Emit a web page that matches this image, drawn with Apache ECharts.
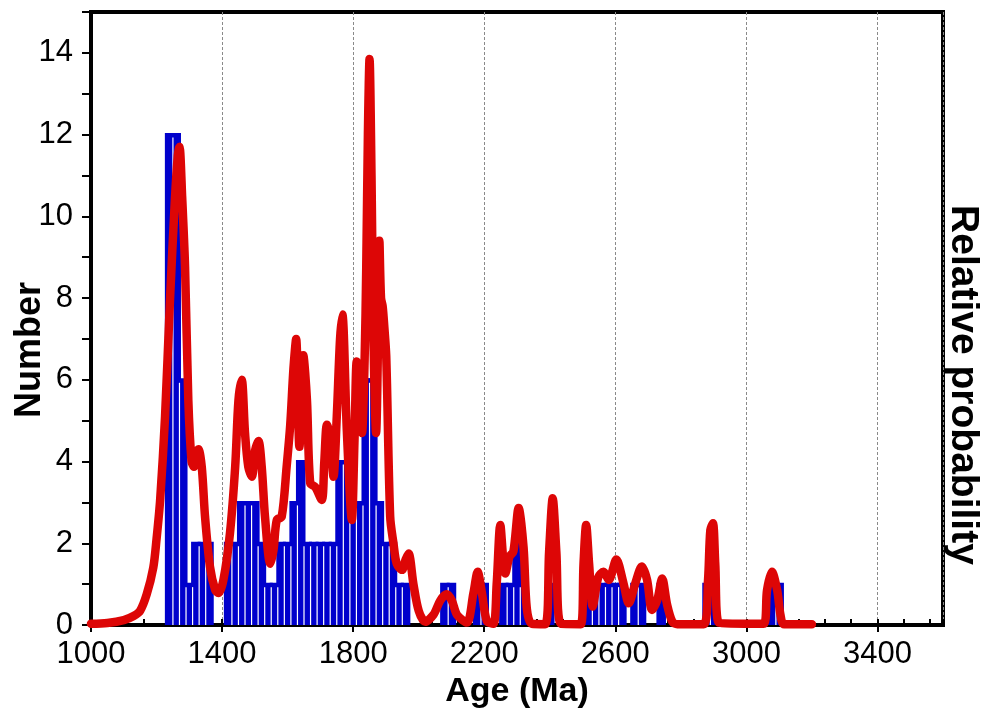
<!DOCTYPE html>
<html>
<head>
<meta charset="utf-8">
<script src="https://cdn.jsdelivr.net/npm/echarts@6/dist/echarts.min.js"></script>
<style>
html,body{margin:0;padding:0;background:#ffffff;}
#chart{width:987px;height:723px;}
</style>
</head>
<body>
<div id="chart"></div>
<script>
// ---- Data ----
// Histogram: bin centres (Ma), 20 Ma wide bins, and the number of grains in each
const binWidth = 20;
const binCenters = [1240,1260,1280,1300,1320,1340,1360,1420,1440,1460,1480,1500,1520,1540,1560,1580,1600,1620,1640,1660,1680,1700,1720,1740,1760,1780,1800,1820,1840,1860,1880,1900,1920,1940,1960,2080,2100,2180,2200,2260,2280,2300,2320,2400,2520,2540,2560,2580,2600,2620,2660,2680,2740,2880,2900,3080,3100];
const binCounts  = [12,12,6,1,2,2,2,2,2,3,3,3,2,1,1,2,2,3,4,2,2,2,2,2,4,4,3,3,6,6,3,2,2,1,1,1,1,1,1,1,1,2,1,1,1,1,1,1,1,1,1,1,1,1,1,1,1];

// Relative probability curve (scaled to the Number axis)
const curveAges = [1000,1050,1100,1130,1150,1170,1190,1200,1211,1226,1241,1256,1265,1270,1278,1287,1297,1307,1314,1322,1328,1338,1348,1363,1379,1389,1404,1424,1440,1450,1460,1470,1480,1491,1501,1511,1521,1531,1547,1557,1567,1582,1597,1608,1618,1626,1636,1648,1659,1669,1684,1704,1712,1720,1730,1740,1750,1760,1767,1781,1796,1804,1811,1820,1827,1835,1840,1845,1850,1856,1862,1870,1876,1880,1885,1890,1895,1901,1913,1923,1933,1949,1960,1969,1984,2000,2020,2045,2066,2085,2101,2117,2147,2167,2180,2193,2208,2228,2238,2249,2258,2264,2277,2289,2305,2320,2330,2345,2386,2398,2409,2420,2434,2495,2503,2511,2520,2531,2548,2564,2580,2603,2625,2641,2661,2681,2697,2712,2728,2743,2758,2774,2789,2870,2883,2890,2898,2905,2916,3053,3063,3078,3094,3104,3115,3200];
const curveValues = [0.03,0.05,0.12,0.22,0.35,0.75,1.4,2.1,3.06,5.1,7.95,10.4,11.5,11.7,10.5,8.77,5.5,4.0,3.87,4.2,4.3,3.87,2.65,1.43,0.86,0.78,1.1,2.24,3.87,5.5,6.0,4.7,3.87,3.63,4.28,4.5,3.87,2.65,1.5,1.84,2.57,2.65,3.87,4.9,6.3,7.0,4.36,6.6,5.5,3.47,3.38,3.06,4.0,4.9,4.6,3.63,5.1,7.0,7.6,4.7,2.57,4.5,6.45,5.5,4.7,6.5,8.77,12,13.85,11,7,4.7,7,9.4,8,7.8,7.3,6.57,2.65,2.0,1.5,1.35,1.6,1.75,1.0,0.35,0.08,0.25,0.6,0.75,0.6,0.25,0.06,0.78,1.3,0.78,0.1,0.03,1.0,2.45,1.6,1.26,1.67,1.8,2.86,1.9,0.4,0.03,0.02,1.8,3.1,1.8,0.03,0.02,1.5,2.45,1.5,0.45,1.17,1.3,1.1,1.6,1.02,0.53,1.02,1.43,1.1,0.37,0.61,1.14,0.5,0.08,0.02,0.02,1.1,2.32,2.49,1.5,0.06,0.03,0.85,1.3,0.85,0.25,0.02,0.02];

// Axes
const xMin = 1000, xMax = 3600, xMajor = 400, xMinor = 80;
const yMin = 0, yMax = 15, yMinor = 1;
const yLabelEvery = 2;
const xTitle = 'Age (Ma)';
const yTitle = 'Number';
const y2Title = 'Relative probability';

// ---- Styling ----
const BLUE = '#0000cc';
const RED = '#dd0606';
const FONT = '"Liberation Sans", Arial, Helvetica, sans-serif';

const countAt = {};
binCenters.forEach((c, i) => { countAt[c] = binCounts[i]; });

const histData = binCenters.map((c, i) => [c, binCounts[i]]);
const curveData = curveAges.map((a, i) => [a, curveValues[i]]);

const chart = echarts.init(document.getElementById('chart'), null, {renderer: 'canvas'});

const option = {
  animation: false,
  backgroundColor: '#ffffff',
  grid: {left: 91, right: 44, top: 12, bottom: 98, show: true, borderColor: '#000', borderWidth: 4, backgroundColor: 'transparent'},
  xAxis: [
    {
      type: 'value', min: xMin, max: xMax, interval: xMajor, position: 'bottom',
      axisLine: {show: true, onZero: false, lineStyle: {color: '#000', width: 4}},
      axisTick: {show: true, inside: false, length: 7, lineStyle: {color: '#000', width: 2}},
      axisLabel: {show: true, margin: 14, color: '#000', fontSize: 31, fontFamily: FONT, showMaxLabel: false,
        formatter: function (v) { return String(v); }},
      splitLine: {show: true, lineStyle: {color: '#8a8a8a', width: 1, type: [3, 2]}},
      name: xTitle, nameLocation: 'middle', nameGap: 46,
      nameTextStyle: {color: '#000', fontSize: 34, fontWeight: 'bold', fontFamily: FONT}
    },
    {
      type: 'value', min: xMin, max: xMax, interval: xMinor, position: 'bottom',
      axisLine: {show: false, onZero: false},
      axisTick: {show: true, inside: true, length: 6, lineStyle: {color: '#000', width: 2}},
      axisLabel: {show: false},
      splitLine: {show: false}
    }
  ],
  yAxis: [
    {
      type: 'value', min: yMin, max: yMax, interval: yMinor, position: 'left',
      axisLine: {show: true, onZero: false, lineStyle: {color: '#000', width: 4}},
      axisTick: {show: true, inside: false, length: 9, lineStyle: {color: '#000', width: 2}},
      axisLabel: {
        show: true, margin: 18, color: '#000', fontSize: 31, fontFamily: FONT,
        formatter: function (v) { return (v % yLabelEvery === 0 && v < yMax) ? String(v) : ''; }
      },
      splitLine: {show: false}
    }
  ],
  graphic: [
    {
      type: 'text', rotation: Math.PI / 2,
      x: 30, y: 350,
      style: {text: yTitle, fill: '#000', font: 'bold 36px ' + FONT, align: 'center', verticalAlign: 'middle'}
    },
    {
      type: 'text', rotation: -Math.PI / 2,
      x: 963, y: 385,
      style: {text: y2Title, fill: '#000', font: 'bold 39px ' + FONT, align: 'center', verticalAlign: 'middle'}
    }
  ],
  series: [
    {
      type: 'custom',
      xAxisIndex: 0, yAxisIndex: 0,
      data: histData,
      z: 2,
      clip: true,
      renderItem: function (params, api) {
        const c = api.value(0), v = api.value(1);
        const tl = api.coord([c - binWidth / 2, v]);
        const br = api.coord([c + binWidth / 2, 0]);
        const children = [{
          type: 'rect',
          shape: {x: tl[0], y: tl[1], width: br[0] - tl[0], height: br[1] - tl[1]},
          style: {fill: BLUE, stroke: BLUE, lineWidth: 3, lineJoin: 'miter'}
        }];
        const left = countAt[c - binWidth] || 0;
        if (left > 0) {
          const top = api.coord([c - binWidth / 2, Math.min(left, v)]);
          children.push({
            type: 'line',
            shape: {x1: tl[0], y1: top[1] + 3, x2: tl[0], y2: br[1]},
            style: {stroke: '#ffffff', lineWidth: 1.2}
          });
        }
        return {type: 'group', children: children};
      }
    },
    {
      type: 'line',
      xAxisIndex: 0, yAxisIndex: 0,
      data: curveData,
      z: 3,
      showSymbol: false,
      symbol: 'none',
      smooth: 0.3,
      clip: false,
      lineStyle: {color: RED, width: 8.5, cap: 'round', join: 'round'}
    }
  ]
};
chart.setOption(option);
</script>
</body>
</html>
